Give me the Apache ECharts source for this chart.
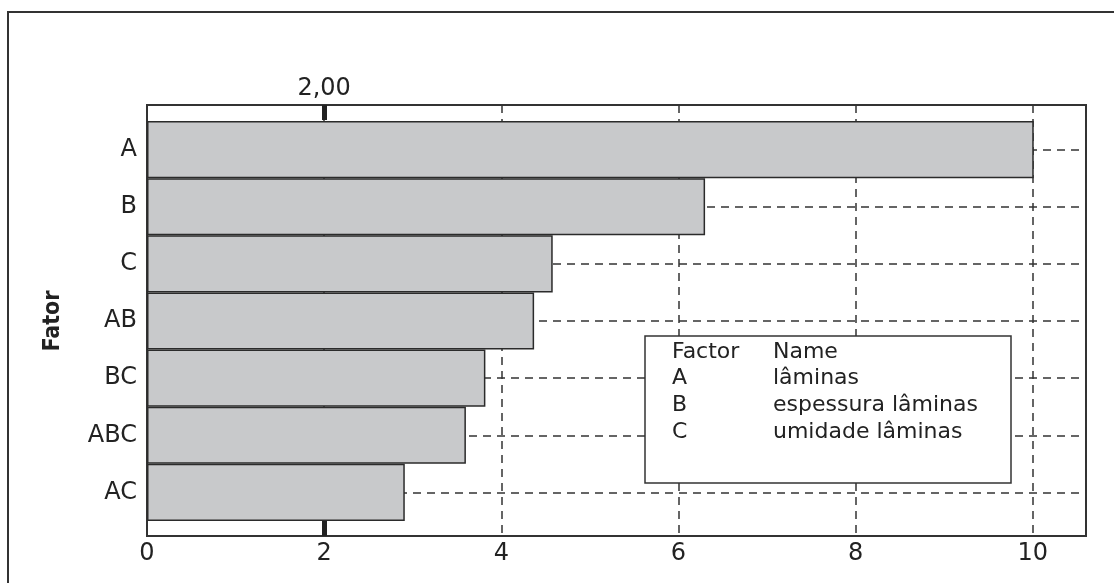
<!DOCTYPE html>
<html>
<head>
<meta charset="utf-8">
<script src="https://cdn.jsdelivr.net/npm/echarts@6/dist/echarts.min.js"></script>
<style>
    html, body { margin: 0; background: #fff; }
    #chart { width: 1114px; height: 583px; }
</style>
</head>
<body>
<div id="chart"></div>
<script>
// 因子与效应值
const factors = ['A', 'B', 'C', 'AB', 'BC', 'ABC', 'AC']
const effects = [10.01, 6.30, 4.58, 4.37, 3.82, 3.60, 2.91]
// 参考线
const refValue = 2
const refLabel = '2,00'
// 说明框
const legendHead = ['Factor', 'Name']
const legendCodes = ['A', 'B', 'C']
const legendNames = ['lâminas', 'espessura lâminas', 'umidade lâminas']

const font = 'DejaVu Sans'
const dash = { color: '#333', width: 1.5, type: [8, 6] }
const xMax = 10.6

let chart = echarts.init(document.getElementById('chart'))

// 说明框里的文字
let legendTexts = []
let rows = [legendHead].concat(legendCodes.map((c, i) => [c, legendNames[i]]))
rows.forEach((r, i) => {
    legendTexts.push({
        type: 'text', x: 672, y: 352 + i * 26.7, zlevel: 3, z: 10, silent: true,
        style: { text: r[0], fontSize: 22, fontFamily: font, fill: '#222', verticalAlign: 'middle' }
    })
    legendTexts.push({
        type: 'text', x: 773, y: 352 + i * 26.7, zlevel: 3, z: 10, silent: true,
        style: { text: r[1], fontSize: 22, fontFamily: font, fill: '#222', verticalAlign: 'middle' }
    })
})

let option = {
    backgroundColor: '#fff',
    animation: false,
    grid: [
        // 外框
        { left: 147, right: 28, top: 105, bottom: 47, show: true, borderColor: '#333', borderWidth: 2, backgroundColor: 'transparent' },
        // 柱子
        { left: 147, right: 28, top: 121, bottom: 62 },
        // 水平虚线
        { left: 147, right: 28, top: 149.6, bottom: 90.6 },
        // 底部参考刻度
        { left: 147, right: 28, top: 105, bottom: 47 }
    ],
    xAxis: [
        {
            gridIndex: 0, type: 'value', position: 'bottom', min: 0, max: xMax, interval: 2,
            axisLine: { show: false },
            axisTick: { show: false },
            axisLabel: { fontSize: 24, fontFamily: font, color: '#222', margin: 6, showMaxLabel: false },
            splitLine: { lineStyle: dash }
        },
        {
            gridIndex: 0, type: 'value', position: 'top', min: 0, max: xMax,
            axisLine: { show: false },
            axisTick: { customValues: [refValue], inside: true, length: 15, lineStyle: { color: '#222', width: 5 } },
            axisLabel: { customValues: [refValue], formatter: () => refLabel, fontSize: 24, fontFamily: font, color: '#222', margin: 4 },
            splitLine: { show: false }
        },
        {
            gridIndex: 3, type: 'value', position: 'bottom', min: 0, max: xMax,
            axisLine: { show: false },
            axisTick: { customValues: [refValue], inside: true, length: 15, lineStyle: { color: '#222', width: 5 } },
            axisLabel: { show: false },
            splitLine: { show: false }
        },
        { gridIndex: 1, type: 'value', min: 0, max: xMax, show: false },
        { gridIndex: 2, type: 'value', min: 0, max: xMax, show: false }
    ],
    yAxis: [
        { gridIndex: 0, type: 'value', show: false },
        {
            gridIndex: 1, type: 'category', inverse: true, data: factors,
            axisLine: { show: false },
            axisTick: { alignWithLabel: true, length: 7, lineStyle: { color: '#222', width: 1.5 } },
            axisLabel: { fontSize: 24, fontFamily: font, color: '#222', margin: 10 },
            splitLine: { show: false },
            name: 'Fator',
            nameLocation: 'middle',
            nameRotate: 90,
            nameGap: 82,
            nameTextStyle: { fontSize: 23, fontWeight: 'bold', fontFamily: 'DejaVu Sans Condensed', color: '#222' }
        },
        {
            gridIndex: 2, type: 'value', inverse: true, min: 0, max: factors.length - 1, interval: 1,
            axisLine: { show: false },
            axisTick: { show: false },
            axisLabel: { show: false },
            splitLine: { lineStyle: dash }
        },
        { gridIndex: 3, type: 'value', show: false }
    ],
    series: [
        {
            type: 'bar',
            xAxisIndex: 3,
            yAxisIndex: 1,
            data: effects,
            barCategoryGap: '0%',
            itemStyle: { color: '#c8c9cb', borderColor: '#2b2b2b', borderWidth: 1.5 },
            zlevel: 1
        }
    ],
    graphic: [
        // 整张图外框
        {
            type: 'rect', zlevel: 2, silent: true,
            shape: { x: 8, y: 12, width: 1300, height: 800 },
            style: { fill: 'none', stroke: '#333', lineWidth: 2 }
        },
        // 说明框
        {
            type: 'rect', zlevel: 2, silent: true,
            shape: { x: 645, y: 336, width: 366, height: 147 },
            style: { fill: '#fff', stroke: '#333', lineWidth: 1.5 }
        }
    ].concat(legendTexts)
}
chart.setOption(option)
window.addEventListener('resize', function () {
    chart.resize()
})
</script>
</body>
</html>
